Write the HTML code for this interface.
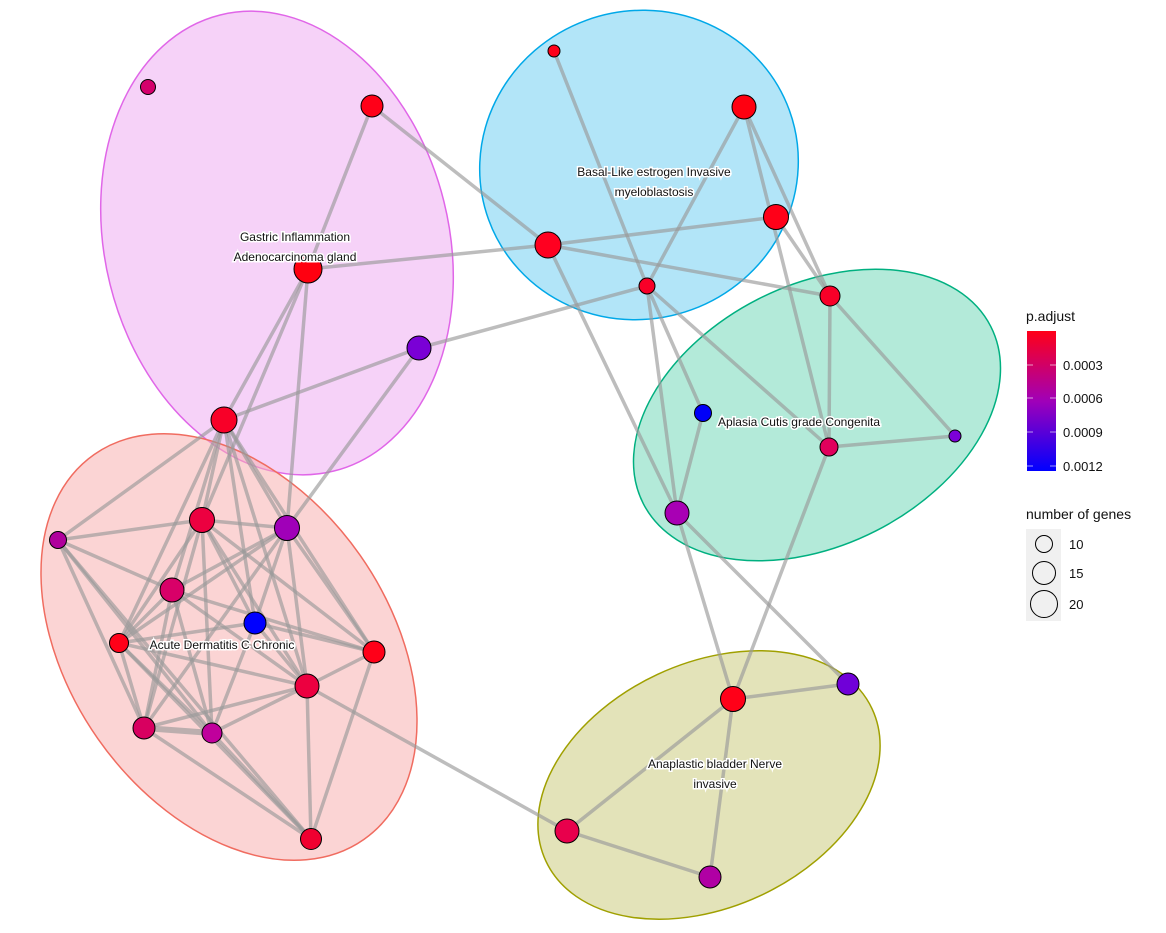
<!DOCTYPE html>
<html><head><meta charset="utf-8"><style>
html,body{margin:0;padding:0;background:#fff;}
svg{display:block;font-family:"Liberation Sans",Arial,sans-serif;}
.lbl{font-size:12px;fill:#111;stroke:#fff;stroke-width:3px;paint-order:stroke;text-anchor:middle;}
.n{stroke:#000;stroke-width:1;}
</style></head><body>
<svg width="1166" height="933" viewBox="0 0 1166 933">
<defs>
<linearGradient id="g" x1="0" y1="1" x2="0" y2="0">
<stop offset="0" stop-color="#0000ff"/><stop offset="0.5" stop-color="#a000b8"/><stop offset="1" stop-color="#ff0018"/>
</linearGradient>
</defs>
<ellipse cx="277" cy="243" rx="172" ry="235" transform="rotate(-14 277 243)" fill="#f0b4f4" fill-opacity="0.6" stroke="#e066e8" stroke-width="1.5"/>
<ellipse cx="639" cy="165" rx="160" ry="154" transform="rotate(-20 639 165)" fill="#7fd4f4" fill-opacity="0.6" stroke="#00a8e8" stroke-width="1.5"/>
<ellipse cx="817" cy="415" rx="195" ry="130" transform="rotate(-27 817 415)" fill="#80dcc0" fill-opacity="0.6" stroke="#00b080" stroke-width="1.5"/>
<ellipse cx="229" cy="647" rx="160" ry="235" transform="rotate(-35 229 647)" fill="#f8b0b0" fill-opacity="0.55" stroke="#f06c60" stroke-width="1.5"/>
<ellipse cx="709" cy="785" rx="180" ry="122" transform="rotate(-25 709 785)" fill="#cccc80" fill-opacity="0.55" stroke="#a0a000" stroke-width="1.5"/>
<g stroke="#9a9a9a" stroke-opacity="0.65" stroke-width="3.5" stroke-linecap="round">
<line x1="372" y1="106" x2="308" y2="269"/>
<line x1="372" y1="106" x2="548" y2="245"/>
<line x1="308" y1="269" x2="548" y2="245"/>
<line x1="308" y1="269" x2="224" y2="420"/>
<line x1="308" y1="269" x2="202" y2="520"/>
<line x1="308" y1="269" x2="287" y2="528"/>
<line x1="419" y1="348" x2="224" y2="420"/>
<line x1="419" y1="348" x2="287" y2="528"/>
<line x1="419" y1="348" x2="647" y2="286"/>
<line x1="554" y1="51" x2="647" y2="286"/>
<line x1="744" y1="107" x2="647" y2="286"/>
<line x1="744" y1="107" x2="830" y2="296"/>
<line x1="744" y1="107" x2="829" y2="447"/>
<line x1="776" y1="217" x2="548" y2="245"/>
<line x1="776" y1="217" x2="830" y2="296"/>
<line x1="548" y1="245" x2="830" y2="296"/>
<line x1="548" y1="245" x2="677" y2="513"/>
<line x1="647" y1="286" x2="703" y2="413"/>
<line x1="647" y1="286" x2="677" y2="513"/>
<line x1="647" y1="286" x2="829" y2="447"/>
<line x1="830" y1="296" x2="829" y2="447"/>
<line x1="830" y1="296" x2="955" y2="436"/>
<line x1="829" y1="447" x2="955" y2="436"/>
<line x1="703" y1="413" x2="677" y2="513"/>
<line x1="829" y1="447" x2="733" y2="699"/>
<line x1="677" y1="513" x2="733" y2="699"/>
<line x1="677" y1="513" x2="848" y2="684"/>
<line x1="733" y1="699" x2="848" y2="684"/>
<line x1="733" y1="699" x2="567" y2="831"/>
<line x1="733" y1="699" x2="710" y2="877"/>
<line x1="567" y1="831" x2="710" y2="877"/>
<line x1="307" y1="686" x2="567" y2="831"/>
<line x1="224" y1="420" x2="58" y2="540"/>
<line x1="224" y1="420" x2="202" y2="520"/>
<line x1="224" y1="420" x2="287" y2="528"/>
<line x1="224" y1="420" x2="172" y2="590"/>
<line x1="224" y1="420" x2="255" y2="623"/>
<line x1="224" y1="420" x2="307" y2="686"/>
<line x1="224" y1="420" x2="374" y2="652"/>
<line x1="224" y1="420" x2="119" y2="643"/>
<line x1="202" y1="520" x2="58" y2="540"/>
<line x1="202" y1="520" x2="287" y2="528"/>
<line x1="202" y1="520" x2="119" y2="643"/>
<line x1="202" y1="520" x2="144" y2="728"/>
<line x1="202" y1="520" x2="212" y2="733"/>
<line x1="202" y1="520" x2="307" y2="686"/>
<line x1="202" y1="520" x2="374" y2="652"/>
<line x1="287" y1="528" x2="172" y2="590"/>
<line x1="287" y1="528" x2="119" y2="643"/>
<line x1="287" y1="528" x2="255" y2="623"/>
<line x1="287" y1="528" x2="144" y2="728"/>
<line x1="287" y1="528" x2="307" y2="686"/>
<line x1="287" y1="528" x2="374" y2="652"/>
<line x1="58" y1="540" x2="172" y2="590"/>
<line x1="58" y1="540" x2="144" y2="728"/>
<line x1="58" y1="540" x2="212" y2="733"/>
<line x1="58" y1="540" x2="311" y2="839"/>
<line x1="172" y1="590" x2="119" y2="643"/>
<line x1="172" y1="590" x2="144" y2="728"/>
<line x1="172" y1="590" x2="212" y2="733"/>
<line x1="172" y1="590" x2="307" y2="686"/>
<line x1="172" y1="590" x2="374" y2="652"/>
<line x1="255" y1="623" x2="119" y2="643"/>
<line x1="255" y1="623" x2="374" y2="652"/>
<line x1="255" y1="623" x2="212" y2="733"/>
<line x1="255" y1="623" x2="307" y2="686"/>
<line x1="119" y1="643" x2="307" y2="686"/>
<line x1="119" y1="643" x2="144" y2="728"/>
<line x1="119" y1="643" x2="212" y2="733"/>
<line x1="119" y1="643" x2="311" y2="839"/>
<line x1="374" y1="652" x2="307" y2="686"/>
<line x1="374" y1="652" x2="311" y2="839"/>
<line x1="307" y1="686" x2="144" y2="728"/>
<line x1="307" y1="686" x2="212" y2="733"/>
<line x1="307" y1="686" x2="311" y2="839"/>
<line x1="144" y1="728" x2="212" y2="733" stroke-width="6"/>
<line x1="144" y1="728" x2="311" y2="839"/>
<line x1="212" y1="733" x2="311" y2="839"/>
<line x1="202" y1="520" x2="255" y2="623"/>
</g>
<g class="n">
<circle cx="148" cy="87" r="7.5" fill="#d4006c"/>
<circle cx="372" cy="106" r="11" fill="#ff0018"/>
<circle cx="308" cy="269" r="14" fill="#ff0010"/>
<circle cx="419" cy="348" r="12" fill="#7a00d6"/>
<circle cx="224" cy="420" r="13" fill="#f80028"/>
<circle cx="554" cy="51" r="6" fill="#ff0018"/>
<circle cx="744" cy="107" r="12" fill="#ff0010"/>
<circle cx="776" cy="217" r="12.5" fill="#ff0018"/>
<circle cx="548" cy="245" r="13" fill="#ff0020"/>
<circle cx="647" cy="286" r="8" fill="#f80028"/>
<circle cx="830" cy="296" r="10" fill="#f80028"/>
<circle cx="703" cy="413" r="8.5" fill="#0000f8"/>
<circle cx="829" cy="447" r="9" fill="#e0005c"/>
<circle cx="955" cy="436" r="6" fill="#7c00d8"/>
<circle cx="677" cy="513" r="12" fill="#a800b4"/>
<circle cx="733" cy="699" r="12.5" fill="#ff0018"/>
<circle cx="848" cy="684" r="11" fill="#7000d8"/>
<circle cx="567" cy="831" r="12" fill="#e8004c"/>
<circle cx="710" cy="877" r="11" fill="#b000a4"/>
<circle cx="202" cy="520" r="12.5" fill="#ec0040"/>
<circle cx="287" cy="528" r="12.5" fill="#a000b8"/>
<circle cx="58" cy="540" r="8.5" fill="#b0009c"/>
<circle cx="172" cy="590" r="12" fill="#d80068"/>
<circle cx="255" cy="623" r="11" fill="#0000ff"/>
<circle cx="119" cy="643" r="9.5" fill="#ff0018"/>
<circle cx="374" cy="652" r="11" fill="#ff0018"/>
<circle cx="307" cy="686" r="12" fill="#ec0040"/>
<circle cx="144" cy="728" r="11" fill="#d80060"/>
<circle cx="212" cy="733" r="10" fill="#c0009c"/>
<circle cx="311" cy="839" r="10.5" fill="#f00030"/>
</g>
<text class="lbl" x="295" y="241">Gastric Inflammation</text>
<text class="lbl" x="295" y="261">Adenocarcinoma gland</text>
<text class="lbl" x="654" y="176">Basal-Like estrogen Invasive</text>
<text class="lbl" x="654" y="196">myeloblastosis</text>
<text class="lbl" x="799" y="426">Aplasia Cutis grade Congenita</text>
<text class="lbl" x="222" y="649">Acute Dermatitis C Chronic</text>
<text class="lbl" x="715" y="768">Anaplastic bladder Nerve</text>
<text class="lbl" x="715" y="788">invasive</text>
<text x="1026" y="321" font-size="14" fill="#111">p.adjust</text>
<rect x="1027" y="331" width="29" height="140" fill="url(#g)"/>
<g stroke="#fff" stroke-opacity="0.6" stroke-width="1">
<line x1="1027" y1="365" x2="1033" y2="365"/><line x1="1050" y1="365" x2="1056" y2="365"/>
<line x1="1027" y1="398" x2="1033" y2="398"/><line x1="1050" y1="398" x2="1056" y2="398"/>
<line x1="1027" y1="432" x2="1033" y2="432"/><line x1="1050" y1="432" x2="1056" y2="432"/>
<line x1="1027" y1="466" x2="1033" y2="466"/><line x1="1050" y1="466" x2="1056" y2="466"/>
</g>
<g font-size="13" fill="#111">
<text x="1063" y="370">0.0003</text>
<text x="1063" y="403">0.0006</text>
<text x="1063" y="437">0.0009</text>
<text x="1063" y="471">0.0012</text>
<text x="1026" y="519" font-size="14">number of genes</text>
</g>
<rect x="1026" y="529" width="35" height="92" fill="#f0f0f0"/>
<g fill="none" stroke="#000" stroke-width="1">
<circle cx="1044" cy="544" r="8.5"/>
<circle cx="1044" cy="573" r="11.5"/>
<circle cx="1044" cy="604" r="13.5"/>
</g>
<g font-size="13" fill="#111">
<text x="1069" y="549">10</text>
<text x="1069" y="578">15</text>
<text x="1069" y="609">20</text>
</g>
</svg>
</body></html>
